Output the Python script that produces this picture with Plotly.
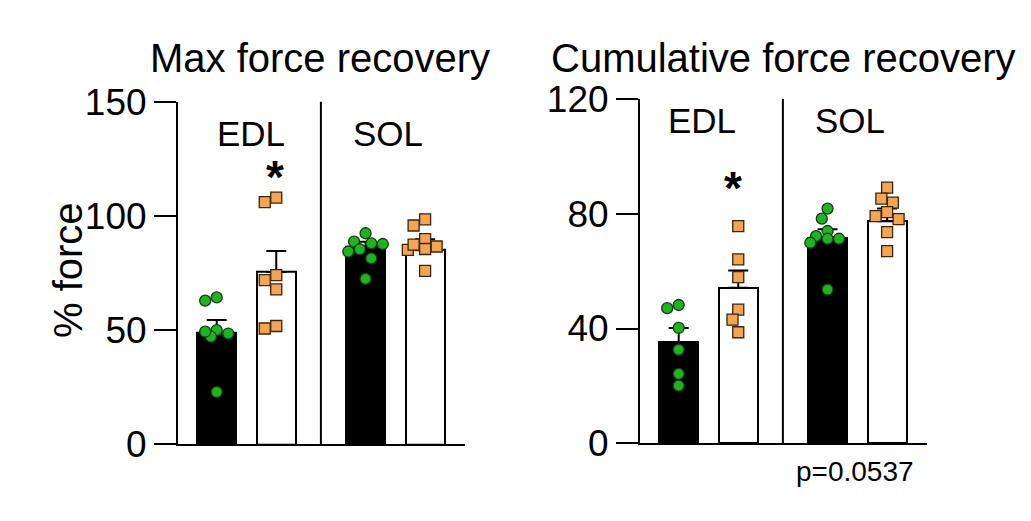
import plotly.graph_objects as go

# bar layout: two groups (EDL, SOL), control (black) and treated (white)
bar_x = [0, 1, 2.5, 3.5]

# Max force recovery (% force)
max_mean = [48.7, 75.4, 86.5, 85.0]
max_sem = [5.7, 9.2, 2.2, 4.8]
max_edl_ctrl = [64.3, 62.9, 50.0, 48.5, 47.1, 49.3, 22.9]
max_edl_trt = [106.0, 108.0, 74.1, 67.8, 71.9, 50.7, 51.8]
max_sol_ctrl = [92.4, 88.7, 87.7, 88.0, 85.4, 84.4, 81.4, 72.4]
max_sol_trt = [98.5, 95.8, 89.8, 86.6, 85.1, 85.5, 87.4, 75.9]

# Cumulative force recovery (% force)
cum_mean = [35.2, 54.2, 71.7, 77.4]
cum_sem = [5.0, 6.0, 2.9, 4.4]
cum_edl_ctrl = [47.1, 48.2, 40.2, 32.6, 24.2, 20.1]
cum_edl_trt = [75.7, 64.1, 57.9, 46.6, 43.1, 38.7]
cum_sol_ctrl = [81.8, 78.3, 74.0, 71.3, 72.2, 69.9, 71.3, 53.6]
cum_sol_trt = [89.1, 85.3, 83.9, 80.6, 79.2, 78.1, 73.6, 67.0]

# the page body has an 8px margin, so the figure is a bit smaller than the window
PAD = 8
W, H = 1031 - 2 * PAD, 521 - 2 * PAD
FONT = "Liberation Sans, Arial, sans-serif"
GREEN, GREEN_EDGE = "#1fb41f", "#123d12"
ORANGE, ORANGE_EDGE = "#f5a452", "#3b2510"


def fx(px):
    return (px - PAD) / W


def fy(py):
    return 1 - (py - PAD) / H


xrange_ = [-0.65, 4.17]
left_dom_x = [fx(178), fx(465)]
right_dom_x = [fx(640), fx(927)]
left_dom_y = [fy(444.3), fy(101.7)]
right_dom_y = [fy(443.3), fy(99)]


def swarm(values, px_per_x, px_per_y, diam=11.5, max_steps=3):
    # greedy beeswarm kept inside the bar; if nothing fits, take the least crowded slot
    placed = []
    offsets = [0.0] * len(values)
    order = sorted(range(len(values)), key=lambda i: -values[i])
    cands = [0] + [s * i for i in range(1, max_steps + 1) for s in (-1, 1)]
    for i in order:
        v = values[i]
        best, best_d = 0.0, -1.0
        for c in cands:
            dx = c * diam * 0.5
            d = min([((dx - px) ** 2 + ((v - pv) * px_per_y) ** 2) ** 0.5
                     for px, pv in placed] or [1e9])
            if d >= diam * 0.95:
                best = dx
                break
            if d > best_d:
                best, best_d = dx, d
        placed.append((best, v))
        offsets[i] = best / px_per_x
    return offsets


fig = go.Figure()


def add_panel(xa, ya, means, sems, groups, dom_x, dom_y, ymax):
    px_x = (dom_x[1] - dom_x[0]) * W / (xrange_[1] - xrange_[0])
    px_y = (dom_y[1] - dom_y[0]) * H / ymax
    fig.add_trace(go.Bar(
        x=bar_x, y=means, width=0.655,
        marker=dict(color=["black", "white", "black", "white"],
                    line=dict(color="black", width=2)),
        error_y=dict(type="data", symmetric=False, array=sems,
                     arrayminus=[0] * len(sems), color="black", thickness=2, width=10),
        xaxis=xa, yaxis=ya, showlegend=False))
    for j, vals in enumerate(groups):
        offs = swarm(vals, px_x, px_y)
        ctrl = j % 2 == 0
        fig.add_trace(go.Scatter(
            x=[bar_x[j] + o for o in offs], y=vals, mode="markers",
            marker=dict(symbol="circle" if ctrl else "square",
                        size=11,
                        color=GREEN if ctrl else ORANGE,
                        line=dict(color=GREEN_EDGE if ctrl else ORANGE_EDGE, width=1.3)),
            xaxis=xa, yaxis=ya, showlegend=False, cliponaxis=False))


add_panel("x", "y", max_mean, max_sem,
          [max_edl_ctrl, max_edl_trt, max_sol_ctrl, max_sol_trt],
          left_dom_x, left_dom_y, 150)
add_panel("x2", "y2", cum_mean, cum_sem,
          [cum_edl_ctrl, cum_edl_trt, cum_sol_ctrl, cum_sol_trt],
          right_dom_x, right_dom_y, 120)

xax = dict(range=xrange_, showline=True, linewidth=2, linecolor="black",
           showticklabels=False, ticks="", showgrid=False, zeroline=False,
           fixedrange=True, automargin=False)
yax = dict(showline=True, linewidth=2, linecolor="black", ticks="outside", ticklen=22,
           tickwidth=2, tickcolor="black", showgrid=False, zeroline=False,
           tickfont=dict(family=FONT, size=37, color="black"), fixedrange=True,
           automargin=False)

fig.update_layout(
    width=W, height=H, margin=dict(l=0, r=0, t=0, b=0, autoexpand=False),
    plot_bgcolor="white", paper_bgcolor="white", bargap=0,
    font=dict(family=FONT, color="black"),
    xaxis=dict(xax, domain=left_dom_x, anchor="y"),
    yaxis=dict(yax, domain=left_dom_y, anchor="x", range=[0, 150],
               tickvals=[0, 50, 100, 150]),
    xaxis2=dict(xax, domain=right_dom_x, anchor="y2"),
    yaxis2=dict(yax, domain=right_dom_y, anchor="x2", range=[0, 120],
                tickvals=[0, 40, 80, 120]),
)

# separator between EDL and SOL
for xr, yr in [("x", "y domain"), ("x2", "y2 domain")]:
    fig.add_shape(type="line", xref=xr, yref=yr, x0=1.75, x1=1.75, y0=0, y1=1,
                  line=dict(color="black", width=2))

ann = [
    dict(text="Max force recovery", x=320, y=58, size=40),
    dict(text="Cumulative force recovery", x=783, y=58, size=40),
    dict(text="EDL", x=251, y=133, size=35),
    dict(text="SOL", x=388, y=133, size=35),
    dict(text="EDL", x=702, y=121, size=35),
    dict(text="SOL", x=850, y=121, size=35),
    dict(text="<b>*</b>", x=275, y=177, size=46),
    dict(text="<b>*</b>", x=733, y=188, size=46),
    dict(text="p=0.0537", x=855, y=471, size=28),
]
for a in ann:
    fig.add_annotation(text=a["text"], x=fx(a["x"]), y=fy(a["y"]), xref="paper", yref="paper",
                       xanchor="center", yanchor="middle", showarrow=False,
                       font=dict(family=FONT, size=a["size"], color="black"))
fig.add_annotation(text="% force", x=fx(68), y=fy(270), xref="paper", yref="paper",
                   textangle=-90, showarrow=False, xanchor="center", yanchor="middle",
                   font=dict(family=FONT, size=40, color="black"))

fig.write_html("out.html")
